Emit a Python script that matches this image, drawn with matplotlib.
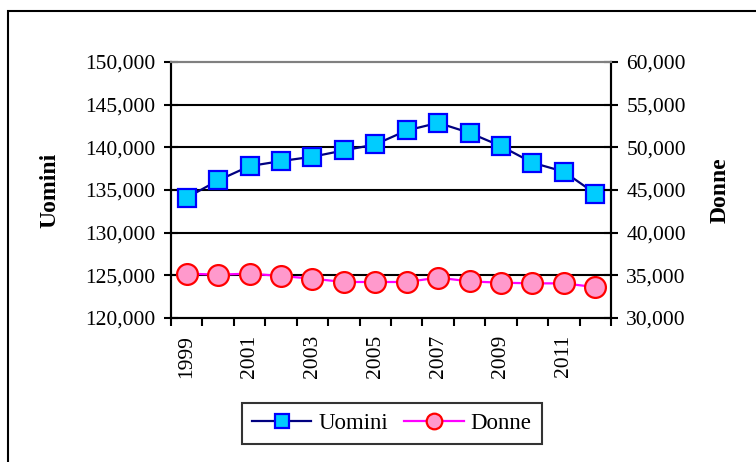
import matplotlib.pyplot as plt
from matplotlib.patches import Rectangle

anni = list(range(1999, 2013))
uomini = [134100, 136130, 137800, 138390, 138900, 139640, 140340,
          141975, 142870, 141700, 140140, 138200, 137150, 134580]
donne = [35200, 35080, 35200, 34920, 34610, 34220, 34220,
         34220, 34730, 34290, 34140, 34060, 34060, 33620]

sx_ticks = [120000, 125000, 130000, 135000, 140000, 145000, 150000]
dx_ticks = [30000, 35000, 40000, 45000, 50000, 55000, 60000]

plt.rcParams['font.family'] = ['Liberation Serif', 'DejaVu Serif']
plt.rcParams['font.size'] = 15.5


def main():
    fig = plt.figure(figsize=(7.56, 4.62), dpi=100)
    ax = fig.add_axes([171 / 756, 1 - 318 / 462, 440 / 756, 256 / 462])
    ax2 = ax.twinx()

    # cornice esterna del grafico
    fig.patches.append(Rectangle((8 / 756, -0.1), 1.2, 1 - 11 / 462 + 0.1,
                                 transform=fig.transFigure, fill=False,
                                 edgecolor='black', linewidth=1.5))

    x = list(range(len(anni)))
    l1, = ax.plot(x, uomini, color='#000080', lw=1.6, marker='s', ms=12.5,
                  mfc='#00CCFF', mec='#0000FF', mew=1.6, zorder=5,
                  label='Uomini')
    l2, = ax2.plot(x, donne, color='#FF00FF', lw=1.6, marker='o', ms=15,
                   mfc='#FF99CC', mec='#FF0000', mew=1.6, zorder=5,
                   label='Donne')

    ax.set_xlim(-0.5, len(anni) - 0.5)
    ax.set_ylim(sx_ticks[0], sx_ticks[-1])
    ax2.set_ylim(dx_ticks[0], dx_ticks[-1])
    ax.set_yticks(sx_ticks)
    ax.set_yticklabels([f'{v:,}' for v in sx_ticks])
    ax2.set_yticks(dx_ticks)
    ax2.set_yticklabels([f'{v:,}' for v in dx_ticks])

    ax.set_xticks([i - 0.5 for i in range(len(anni) + 1)])
    ax.set_xticklabels([])
    ax.set_xticks(x[::2], minor=True)
    ax.set_xticklabels([str(a) for a in anni[::2]], minor=True, rotation=90)
    ax.tick_params(axis='x', which='major', direction='out', length=6,
                   width=1.5)
    ax.tick_params(axis='x', which='minor', length=0, pad=12)
    ax.tick_params(axis='y', direction='inout', length=10, width=1.5, pad=6)
    ax2.tick_params(axis='y', direction='inout', length=10, width=1.5, pad=6)

    for v in sx_ticks[1:-1]:
        ax.axhline(v, color='black', lw=1.5, zorder=1)

    for a in (ax, ax2):
        for s in ('left', 'right', 'bottom'):
            a.spines[s].set_linewidth(1.5)
            a.spines[s].set_color('black')
        a.spines['top'].set_color('#808080')
        a.spines['top'].set_linewidth(1.5)

    ax.set_ylabel('Uomini', fontweight='bold', fontsize=17)
    ax.yaxis.set_label_coords(-0.252, 0.5)
    ax2.set_ylabel('Donne', fontweight='bold', fontsize=17)
    ax2.yaxis.set_label_coords(1.225, 0.5)

    leg = fig.legend([l1, l2], ['Uomini', 'Donne'], loc='center',
                     bbox_to_anchor=(0.518, 0.083), ncol=2, frameon=True,
                     fancybox=False, handlelength=2.6, columnspacing=0.7,
                     handletextpad=0.3, borderpad=0.45, markerscale=0.75,
                     fontsize=16.5)
    leg.get_frame().set_edgecolor('black')
    leg.get_frame().set_linewidth(1.5)

    fig.savefig('out.png', dpi=100)


if __name__ == "__main__":
    main()
